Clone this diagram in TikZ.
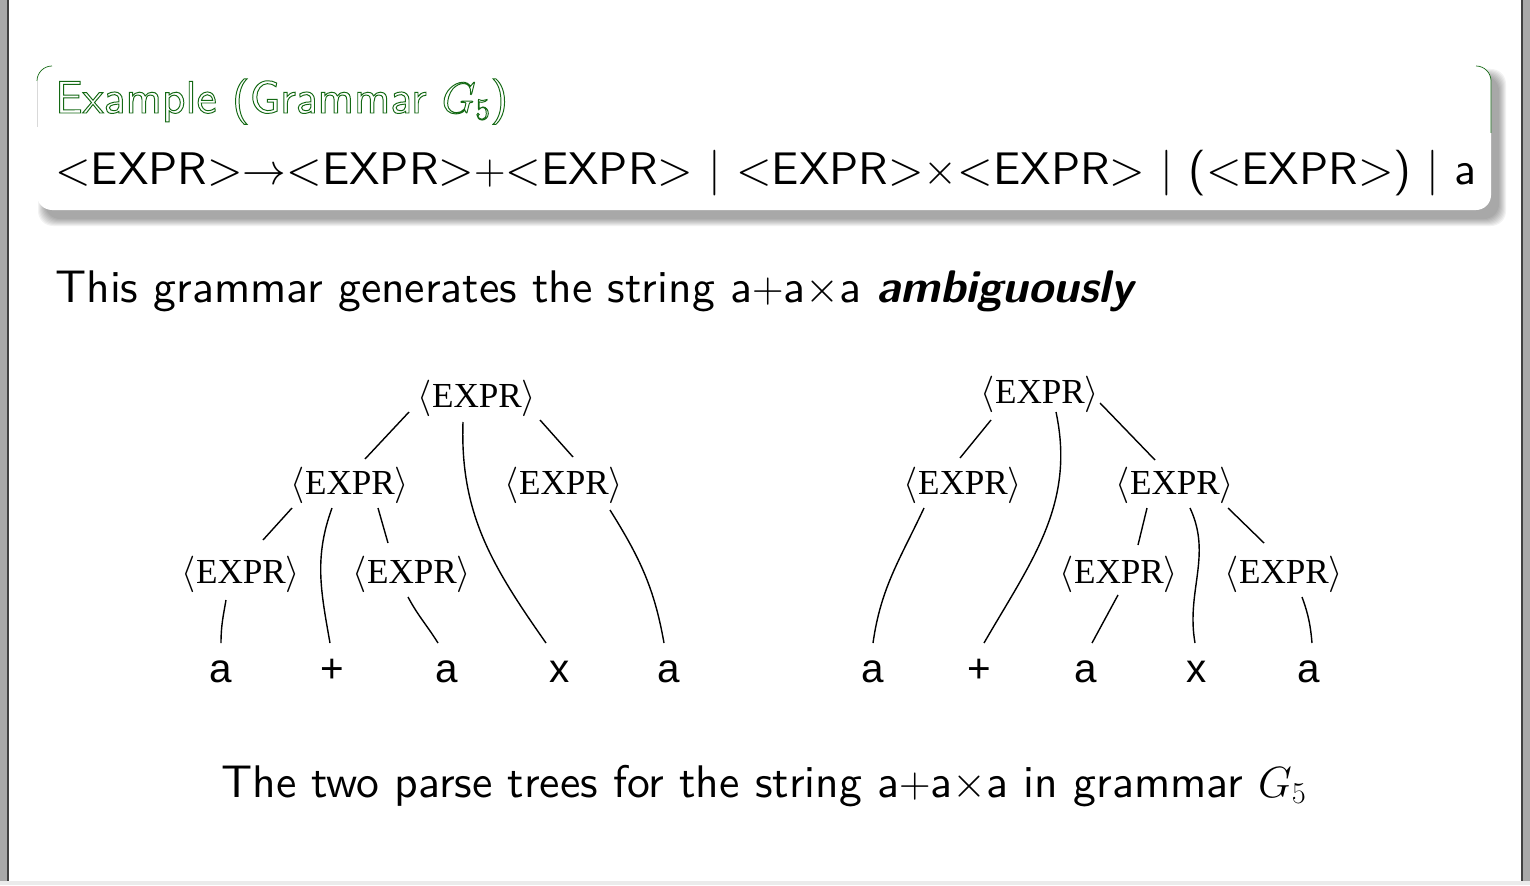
\documentclass[tikz,border=0pt]{standalone}
\usepackage{fontspec}
\newfontfamily\treefont{Liberation Serif}
\newfontfamily\leaffont{Liberation Sans}
\newfontfamily\slidefont{lmsans10-regular.otf}[BoldFont=lmsans10-bold.otf,
  ItalicFont=lmsans10-oblique.otf, BoldItalicFont=lmsans10-boldoblique.otf]
\definecolor{blocktitle}{RGB}{20,105,20}
\definecolor{pagegray}{RGB}{168,168,168}
% hollow title letters
\newcommand{\outlon}{\special{pdf:literal direct 1 Tr 0.55 w}}
\newcommand{\outloff}{\special{pdf:literal direct 0 Tr}}
\tikzset{
  slide/.style={font=\slidefont\fontsize{26}{31}\selectfont, inner sep=0pt},
  nt/.style={font=\treefont\fontsize{20}{24}\selectfont, inner sep=0pt, anchor=base},
  leaf/.style={font=\leaffont\fontsize{23}{28}\selectfont, inner sep=0pt, anchor=base},
  edge/.style={line width=0.8pt},
}
\begin{document}
\begin{tikzpicture}[x=0.02cm, y=0.02cm]
  \useasboundingbox (0,0) rectangle (1530,-885);
  % page frame
  \fill[pagegray] (0,0) rectangle (7,-881);
  \fill[black!75] (7,0) rectangle (8.5,-881);
  \fill[black!75] (1521,0) rectangle (1522.5,-881);
  \fill[pagegray] (1522.5,0) rectangle (1530,-881);
  \fill[black!8] (0,-881) rectangle (1530,-885);
  % block with soft shadow
  \foreach \i in {0,...,7}
    \fill[black, opacity=0.05, rounded corners=0.3cm]
      (45-\i,-76+\i) rectangle (1499+\i,-219-\i);
  \fill[white, rounded corners=0.3cm] (37,-66) rectangle (1491,-210);
  \draw[blocktitle, line width=0.4pt] (37,-81) arc[start angle=180, end angle=90, radius=15];
  \draw[blocktitle, line width=0.4pt] (1476,-66) arc[start angle=90, end angle=0, radius=15] -- (1491,-133);
  \draw[black!15, line width=0.4pt] (37,-81) -- (37,-127);
  % texts
  \node[slide, anchor=base west, text=blocktitle] (title) at (55,-113)
    {\outlon Example (Grammar $G_5$)\outloff};
  \node[slide, anchor=base west] (rule) at (55,-185)
    {<EXPR>$\rightarrow$<EXPR>$+$<EXPR> | <EXPR>$\times$<EXPR> | (<EXPR>) | a};
  \node[slide, anchor=base west] (claim) at (55,-302)
    {This grammar generates the string a$+$a$\times$a \textbf{\textit{ambiguously}}};
  \node[slide, anchor=base] (caption) at (764,-797)
    {The two parse trees for the string a$+$a$\times$a in grammar $G_5$};

  % first tree: (a+a) x a
  \node[nt] (r1) at (477,-407) {$\langle$EXPR$\rangle$};
  \node[nt] (e1) at (350,-494) {$\langle$EXPR$\rangle$};
  \node[nt] (e2) at (564,-494) {$\langle$EXPR$\rangle$};
  \node[nt] (e3) at (241,-583) {$\langle$EXPR$\rangle$};
  \node[nt] (e4) at (412,-583) {$\langle$EXPR$\rangle$};
  \node[leaf] (a1) at (221,-682) {a};
  \node[leaf] (p1) at (332,-682) {+};
  \node[leaf] (a2) at (447,-682) {a};
  \node[leaf] (x1) at (560,-682) {x};
  \node[leaf] (a3) at (669,-682) {a};
  \draw[edge] ([shift={(-68,-5)}]r1.base) -- ([shift={(15,35)}]e1.base);
  \draw[edge] ([shift={(-14,-15)}]r1.base) to[out=-92, in=125] ([shift={(-14,39)}]x1.base);
  \draw[edge] ([shift={(63,-13)}]r1.base) -- ([shift={(9,37)}]e2.base);
  \draw[edge] ([shift={(-58,-14)}]e1.base) -- ([shift={(22,43)}]e3.base);
  \draw[edge] ([shift={(-18,-14)}]e1.base) to[out=-110, in=100] ([shift={(-2,39)}]p1.base);
  \draw[edge] ([shift={(28,-14)}]e1.base) -- ([shift={(-24,40)}]e4.base);
  \draw[edge] ([shift={(-15,-17)}]e3.base) to[out=-100, in=90] ([shift={(0,39)}]a1.base);
  \draw[edge] ([shift={(-4,-14)}]e4.base) to[out=-62, in=122] ([shift={(-9,39)}]a2.base);
  \draw[edge] ([shift={(46,-16)}]e2.base) to[out=-58, in=100] ([shift={(-5,39)}]a3.base);

  % second tree: a + (a x a)
  \node[nt] (r2) at (1040,-403) {$\langle$EXPR$\rangle$};
  \node[nt] (f1) at (963,-494) {$\langle$EXPR$\rangle$};
  \node[nt] (f2) at (1175,-494) {$\langle$EXPR$\rangle$};
  \node[nt] (f3) at (1119,-583) {$\langle$EXPR$\rangle$};
  \node[nt] (f4) at (1284,-583) {$\langle$EXPR$\rangle$};
  \node[leaf] (b1) at (873,-682) {a};
  \node[leaf] (q1) at (979,-682) {+};
  \node[leaf] (b2) at (1086,-682) {a};
  \node[leaf] (y1) at (1197,-682) {x};
  \node[leaf] (b3) at (1309,-682) {a};
  \draw[edge] ([shift={(-49,-17)}]r2.base) -- ([shift={(-3,36)}]f1.base);
  \draw[edge] ([shift={(16,-9)}]r2.base) to[out=-78, in=60] ([shift={(5,39)}]q1.base);
  \draw[edge] ([shift={(60,0)}]r2.base) -- ([shift={(-20,34)}]f2.base);
  \draw[edge] ([shift={(-39,-14)}]f1.base) to[out=-115, in=82] ([shift={(0,39)}]b1.base);
  \draw[edge] ([shift={(-28,-14)}]f2.base) -- ([shift={(19,38)}]f3.base);
  \draw[edge] ([shift={(15,-14)}]f2.base) to[out=-65, in=100] ([shift={(-2,39)}]y1.base);
  \draw[edge] ([shift={(53,-14)}]f2.base) -- ([shift={(-20,40)}]f4.base);
  \draw[edge] ([shift={(-1,-12)}]f3.base) -- ([shift={(6,39)}]b2.base);
  \draw[edge] ([shift={(18,-14)}]f4.base) to[out=-70, in=95] ([shift={(3,39)}]b3.base);
\end{tikzpicture}
\end{document}
